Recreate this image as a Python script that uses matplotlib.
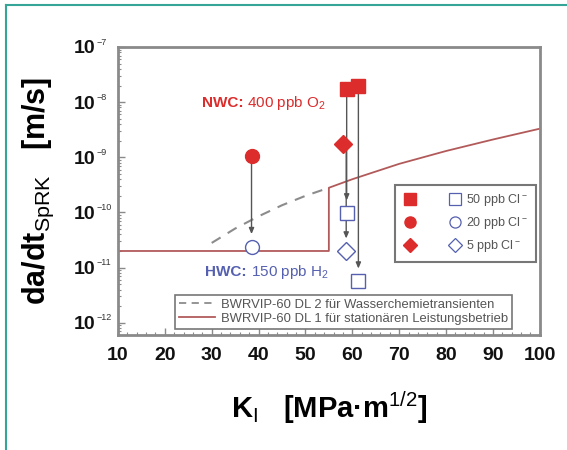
import matplotlib
matplotlib.use("Agg")
import matplotlib.pyplot as plt
from matplotlib.lines import Line2D
from matplotlib.legend_handler import HandlerTuple
from matplotlib.ticker import MultipleLocator, LogLocator, FixedLocator, NullFormatter

plt.rcParams['font.family'] = ['Liberation Sans', 'DejaVu Sans']
plt.rcParams['mathtext.fontset'] = 'custom'
plt.rcParams['mathtext.rm'] = 'Liberation Sans'
plt.rcParams['mathtext.bf'] = 'Liberation Sans:bold'
plt.rcParams['mathtext.it'] = 'Liberation Sans:italic'

# crack growth rates, normal water chemistry (filled) and hydrogen water chemistry (open)
k_nwc = [38.5, 58.0, 58.8, 61.3]
dadt_nwc = [1.06e-9, 1.75e-9, 1.71e-8, 1.96e-8]
k_hwc = [38.5, 58.7, 58.8, 61.3]
dadt_hwc = [2.4e-11, 2.0e-11, 9.8e-11, 5.7e-12]
marker_kind = ['o', 'D', 's', 's']

# BWRVIP-60 disposition lines
k_dl1 = [10, 55, 55, 60, 70, 80, 90, 100]
dadt_dl1 = [2.0e-11, 2.0e-11, 2.8e-10, 4.0e-10, 7.6e-10, 1.3e-9, 2.1e-9, 3.3e-9]
k_dl2 = [30, 35, 40, 45, 50, 55]
dadt_dl2 = [2.8e-11, 5.1e-11, 8.5e-11, 1.35e-10, 2.0e-10, 2.8e-10]

y_decades = [-12, -11, -10, -9, -8, -7]
chloride_labels = ['50 ppb Cl$^-$', '20 ppb Cl$^-$', '5 ppb Cl$^-$']
dl_labels = ['BWRVIP-60 DL 2 für Wasserchemietransienten',
             'BWRVIP-60 DL 1 für stationären Leistungsbetrieb']

red = '#dc2c2c'
blue = '#5560b0'
dl1_color = '#b25a5a'
dl2_color = '#8c8c8c'

fig = plt.figure(figsize=(5.67, 4.5), dpi=100)
ax = fig.add_axes([0.208, 0.2556, 0.744, 0.64])

ax.plot(k_dl2, dadt_dl2, color=dl2_color, lw=1.5, dashes=(5, 4), zorder=2)
ax.plot(k_dl1, dadt_dl1, color=dl1_color, lw=1.3, zorder=2)

for i in range(len(k_nwc)):
    ax.annotate('', xy=(k_hwc[i], dadt_hwc[i]), xytext=(k_hwc[i], dadt_nwc[i]),
                arrowprops=dict(arrowstyle='-|>,head_length=0.35,head_width=0.15',
                                color='#555555', lw=1.0, shrinkA=0, shrinkB=9),
                zorder=3)
    ms = 9 if marker_kind[i] == 'D' else 10
    ax.plot(k_nwc[i], dadt_nwc[i], marker=marker_kind[i], ms=ms, color=red,
            mec=red, ls='none', zorder=4)
    ax.plot(k_hwc[i], dadt_hwc[i], marker=marker_kind[i], ms=ms, mfc='white',
            mec=blue, mew=1.0, ls='none', zorder=4)

ax.set_xscale('linear')
ax.set_yscale('log')
ax.set_xlim(10, 100)
ax.set_ylim(6e-13, 1e-7)

ax.xaxis.set_major_locator(MultipleLocator(10))
ax.xaxis.set_minor_locator(MultipleLocator(2))
ax.yaxis.set_major_locator(FixedLocator([10.0 ** e for e in y_decades]))
ax.yaxis.set_minor_locator(LogLocator(base=10, subs=range(2, 10)))
ax.yaxis.set_minor_formatter(NullFormatter())
ax.set_yticklabels(['10'] * len(y_decades))
for lab in ax.get_xticklabels() + ax.get_yticklabels():
    lab.set_fontweight('bold')
    lab.set_fontsize(14)

ax.tick_params(which='both', direction='in', color='#8a8a8a', labelcolor='#111111')
ax.tick_params(which='major', length=5, width=1.0)
ax.tick_params(which='minor', length=2.5, width=0.8)
ax.tick_params(axis='x', pad=9)
ax.tick_params(axis='y', pad=16)

# small exponents next to the "10" tick labels
for lab, e in zip(ax.get_yticklabels(), y_decades):
    ax.annotate('\u2212%d' % -e, xy=(1, 1), xycoords=lab, xytext=(0.5, 2),
                textcoords='offset points', ha='left', va='top', fontsize=6.5,
                color='#333333')

for sp in ax.spines.values():
    sp.set_color('#8a8a8a')
    sp.set_linewidth(2)

ax.set_xlabel(r'K$_{\rm I}$   [MPa·m$^{1/2}$]', fontsize=21, fontweight='bold', va='center')
ax.xaxis.set_label_coords(0.5, -0.253)
ax.set_ylabel(r'da/dt$_{\rm SpRK}$   [m/s]', fontsize=22, fontweight='bold', va='center')
ax.yaxis.set_label_coords(-0.188, 0.5)

t1 = ax.text(27.9, 9.7e-9, 'NWC:', color=red, fontsize=11, fontweight='bold', va='center')
ax.annotate(' 400 ppb O$_2$', xy=(1, 0.5), xycoords=t1, va='center', ha='left',
            color=red, fontsize=11)
t2 = ax.text(28.6, 8.3e-12, 'HWC:', color=blue, fontsize=11, fontweight='bold', va='center')
ax.annotate(' 150 ppb H$_2$', xy=(1, 0.5), xycoords=t2, va='center', ha='left',
            color=blue, fontsize=11)

# chloride legend: filled and open symbol side by side
pairs = []
for m in ['s', 'o', 'D']:
    ms = 7 if m == 'D' else 8
    filled = Line2D([], [], marker=m, ms=ms, color=red, ls='none')
    hollow = Line2D([], [], marker=m, ms=ms, mfc='white', mec=blue, mew=0.9, ls='none')
    pairs.append((filled, hollow))
leg1 = ax.legend(pairs, chloride_labels, handler_map={tuple: HandlerTuple(ndivide=None, pad=2.4)},
                 loc='upper right', bbox_to_anchor=(0.99, 0.521), fontsize=9,
                 handlelength=4.8, handletextpad=0.3, labelspacing=0.55,
                 borderpad=0.6, borderaxespad=0, fancybox=False, framealpha=1,
                 labelcolor='#555555')
leg1.get_frame().set_edgecolor('#777777')
leg1.get_frame().set_linewidth(1.5)
ax.add_artist(leg1)

dl_handles = [Line2D([], [], color=dl2_color, lw=1.3, dashes=(4, 3)),
              Line2D([], [], color=dl1_color, lw=1.3)]
leg2 = ax.legend(dl_handles, dl_labels, loc='lower left', bbox_to_anchor=(0.135, 0.021),
                 fontsize=9.4, handlelength=2.8, handletextpad=0.4, labelspacing=0.15,
                 borderpad=0.3, borderaxespad=0, fancybox=False, framealpha=1,
                 labelcolor='#555555')
leg2.get_frame().set_edgecolor('#777777')
leg2.get_frame().set_linewidth(1.2)

# teal frame around the figure panel
fig.add_artist(Line2D([6 / 567, 6 / 567], [0, 1 - 5 / 450], color='#34a597', lw=1.5))
fig.add_artist(Line2D([6 / 567, 1], [1 - 5 / 450, 1 - 5 / 450], color='#34a597', lw=1.5))

fig.savefig('out.png', dpi=100)
